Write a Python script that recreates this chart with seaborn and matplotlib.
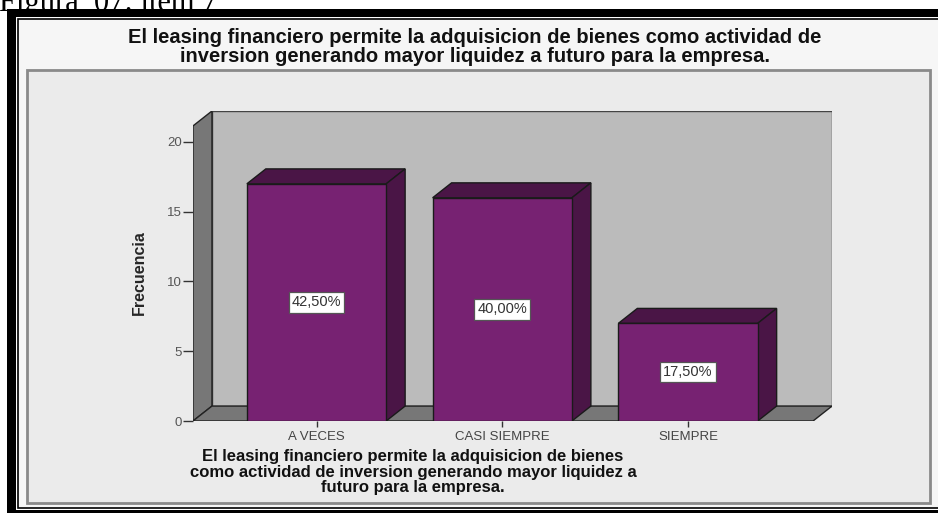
import matplotlib
matplotlib.use("Agg")
import matplotlib.pyplot as plt
from matplotlib.patches import Rectangle, Polygon
import seaborn as sns

# Datos del grafico (item 7)
categorias = ["A VECES", "CASI SIEMPRE", "SIEMPRE"]
frecuencias = [17, 16, 7]
y_ticks = [0, 5, 10, 15, 20]
titulo = ("El leasing financiero permite la adquisicion de bienes como actividad de\n"
          "inversion generando mayor liquidez a futuro para la empresa.")
eje_x = ("El leasing financiero permite la adquisicion de bienes\n"
         "como actividad de inversion generando mayor liquidez a\n"
         "futuro para la empresa.")
figura_txt = "Figura  07: ítem 7"

sns.set_style("white")
plt.rcParams["font.family"] = ["Liberation Sans", "DejaVu Sans"]

W, H = 938, 513
fig = plt.figure(figsize=(W / 100, H / 100), dpi=100)
fig.patch.set_facecolor("white")


def fx(px):
    return px / W


def fy(py):
    return 1 - py / H


def rect(x0, y0, x1, y1, **kw):
    r = Rectangle((fx(x0), fy(y1)), fx(x1) - fx(x0), fy(y0) - fy(y1),
                  transform=fig.transFigure, **kw)
    fig.patches.append(r)


# marco negro y fondo del grafico
rect(7, 9, 945, 513, facecolor="black", edgecolor="none", zorder=1)
rect(16, 17, 945, 510, facecolor="white", edgecolor="none", zorder=1.1)
rect(17.5, 19, 945, 508, facecolor="#f6f6f6", edgecolor="black", lw=1.2, zorder=1.2)
rect(27, 70, 930, 503, facecolor="#ebebeb", edgecolor="#8a8a8a", lw=2, zorder=1.3)

fig.text(fx(-1), fy(11), figura_txt, family="Liberation Serif", fontsize=22,
         va="baseline", ha="left", color="black", zorder=0.5)

fig.text(fx(475), fy(28), titulo, ha="center", va="top", fontsize=14.5,
         fontweight="bold", linespacing=0.98, color="#111111", zorder=3)

# ejes (plano frontal)
ax = fig.add_axes([fx(193), fy(421), fx(832) - fx(193), fy(111) - fy(421)])
ax.set_facecolor("none")
ax.set_zorder(2)

purple = "#772272"
dark = "#4a1546"
sns.barplot(x=categorias, y=frecuencias, color=purple, width=0.75, saturation=1,
            edgecolor="#1a1a1a", linewidth=1, ax=ax, zorder=3)

XMIN, XMAX = -0.665, 2.775
YMAX = 22.22
DX, DY = 0.102, 1.07
ax.set_xlim(XMIN, XMAX)
ax.set_ylim(0, YMAX)

# paredes 3D
back = Polygon([(XMIN + DX, DY), (XMAX, DY), (XMAX, YMAX), (XMIN + DX, YMAX)],
               closed=True, facecolor="#bbbbbb", edgecolor="#444444", lw=1, zorder=0.5)
side = Polygon([(XMIN, 0), (XMIN + DX, DY), (XMIN + DX, YMAX), (XMIN, YMAX - DY)],
               closed=True, facecolor="#777777", edgecolor="#222222", lw=1, zorder=0.6)
floor = Polygon([(XMIN, 0), (XMIN + DX, DY), (XMAX, DY), (XMAX - DX, 0)],
                closed=True, facecolor="#777777", edgecolor="#222222", lw=1, zorder=0.6)
for p in (back, side, floor):
    ax.add_patch(p)

# caras superior y lateral de cada barra + etiqueta de porcentaje
total = sum(frecuencias)
for bar, f in zip(ax.patches[:len(frecuencias)], frecuencias):
    x0 = bar.get_x()
    x1 = x0 + bar.get_width()
    h = bar.get_height()
    top = Polygon([(x0, h), (x0 + DX, h + DY), (x1 + DX, h + DY), (x1, h)],
                  closed=True, facecolor=dark, edgecolor="#1a1a1a", lw=1, zorder=2.9)
    lat = Polygon([(x1, 0), (x1 + DX, DY), (x1 + DX, h + DY), (x1, h)],
                  closed=True, facecolor=dark, edgecolor="#1a1a1a", lw=1, zorder=2.9)
    ax.add_patch(top)
    ax.add_patch(lat)
    pct = f"{f / total * 100:.2f}%".replace(".", ",")
    ax.text((x0 + x1) / 2, h / 2, pct, ha="center", va="center", fontsize=10.5,
            color="#333333", zorder=5,
            bbox=dict(boxstyle="square,pad=0.22", fc="white", ec="#555555", lw=0.9))

for s in ax.spines.values():
    s.set_visible(False)

ax.set_yticks(y_ticks)
ax.set_yticklabels([str(t) for t in y_ticks])
ax.tick_params(axis="y", direction="out", length=7, width=1, color="#333333",
               labelcolor="#555555", labelsize=9.5, pad=1, left=True)
ax.tick_params(axis="x", direction="out", length=4, width=1, color="#333333",
               labelcolor="#444444", labelsize=9.5, pad=3, bottom=True)

ax.set_ylabel("Frecuencia", fontsize=11.5, fontweight="bold", va="center")
ax.yaxis.set_label_coords((139 - 193) / 639, (421 - 273) / 310)
ax.set_xlabel(eje_x, fontsize=12, linespacing=1.05, fontweight="bold",
              color="#111111")
ax.xaxis.set_label_coords((413 - 193) / 639, (421 - 449) / 310)

fig.savefig("out.png", dpi=100)
